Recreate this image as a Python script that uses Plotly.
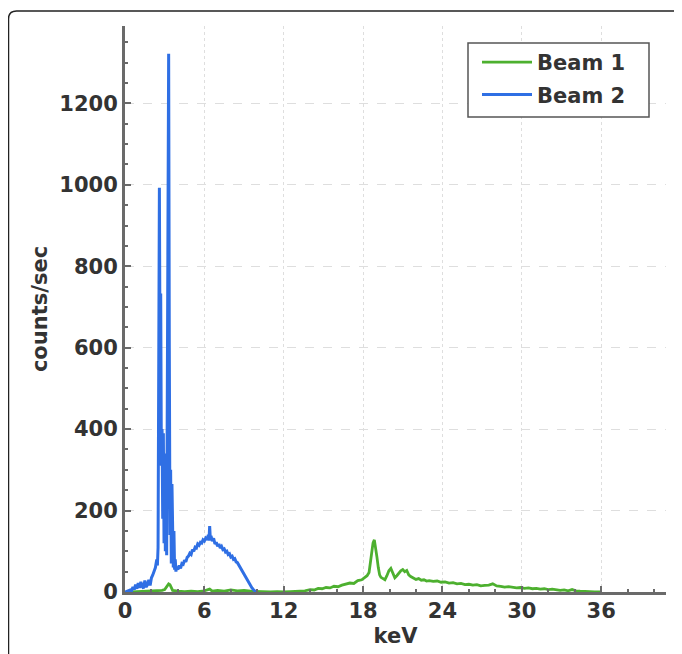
import plotly.graph_objects as go

# ---- data ----
beam2_kev = [0.0, 0.2, 0.4, 0.5, 0.6, 0.7, 0.8, 0.9, 1.0, 1.1, 1.2, 1.3, 1.4, 1.5, 1.6, 1.7, 1.8, 1.9,
             2.0, 2.1, 2.2, 2.3, 2.4, 2.45, 2.5, 2.55, 2.6, 2.65, 2.7, 2.75, 2.8, 2.85, 2.9, 2.95,
             3.0, 3.05, 3.1, 3.15, 3.2, 3.25, 3.3, 3.35, 3.4, 3.45, 3.5, 3.55, 3.6, 3.65, 3.7, 3.75,
             3.8, 3.85, 3.9, 4.0, 4.1, 4.2, 4.3, 4.4, 4.5, 4.6, 4.7, 4.8, 4.9, 5.0, 5.1, 5.2, 5.3,
             5.4, 5.5, 5.6, 5.7, 5.8, 5.9, 6.0, 6.1, 6.2, 6.3, 6.35, 6.4, 6.45, 6.5, 6.6, 6.7, 6.8,
             6.9, 7.0, 7.1, 7.2, 7.3, 7.4, 7.5, 7.6, 7.7, 7.8, 7.9, 8.0, 8.1, 8.2, 8.3, 8.4, 8.5,
             8.6, 8.7, 8.8, 8.9, 9.0, 9.1, 9.2, 9.3, 9.4, 9.5, 9.6, 9.7, 9.8, 9.9, 10.0]
beam2_counts = [0, 2, 5, 3, 12, 6, 18, 8, 22, 10, 25, 14, 9, 28, 12, 18, 30, 16,
                35, 42, 50, 60, 80, 65, 110, 420, 993, 560, 733, 310, 400, 180, 390, 120,
                340, 100, 200, 90, 450, 700, 1322, 600, 140, 300, 70, 265, 110, 60, 150, 55,
                80, 50, 62, 55, 65, 58, 70, 68, 78, 74, 85, 88, 95, 92, 104, 100, 110,
                108, 118, 115, 122, 120, 128, 125, 132, 128, 140, 126, 162, 130, 138, 125, 132, 118,
                122, 112, 118, 108, 112, 104, 106, 98, 100, 92, 94, 86, 88, 80, 82, 74, 72,
                66, 62, 56, 50, 45, 38, 32, 26, 20, 15, 10, 6, 2, 0, 0]

beam1_kev = [0.5, 1.0, 1.5, 2.0, 2.4, 2.8, 3.0, 3.1, 3.2, 3.3, 3.4, 3.5, 3.6, 4.0, 4.5, 5.0, 5.5,
             6.0, 6.4, 6.6, 7.0, 7.5, 8.0, 8.5, 9.0, 9.5, 10.0, 10.5, 11.0, 11.5, 12.0, 12.5,
             13.0, 13.3, 13.6, 14.0, 14.3, 14.6, 14.9, 15.2, 15.5, 15.8, 16.1, 16.4, 16.7, 17.0,
             17.3, 17.6, 17.9, 18.1, 18.3, 18.45, 18.55, 18.65, 18.75, 18.85, 18.95, 19.05, 19.15,
             19.25, 19.35, 19.5, 19.65, 19.8, 19.95, 20.1, 20.25, 20.4, 20.55, 20.7, 20.85, 21.0,
             21.15, 21.3, 21.45, 21.6, 21.8, 22.0, 22.2, 22.4, 22.6, 22.8, 23.0, 23.3, 23.6, 23.9,
             24.2, 24.5, 24.8, 25.1, 25.4, 25.7, 26.0, 26.3, 26.6, 26.9, 27.2, 27.5, 27.8, 28.1,
             28.4, 28.7, 29.0, 29.3, 29.6, 29.9, 30.2, 30.5, 30.8, 31.1, 31.4, 31.7, 32.0, 32.3,
             32.6, 32.9, 33.2, 33.5, 33.8, 34.1, 34.4, 34.7, 35.0, 35.5, 36.0]
beam1_counts = [0, 1, 2, 3, 2, 4, 6, 10, 16, 20, 18, 8, 4, 2, 1, 2, 1,
                3, 7, 2, 4, 2, 5, 3, 4, 2, 1, 1, 0, 1, 0, 1,
                2, 4, 3, 6, 5, 9, 8, 11, 10, 14, 13, 17, 19, 22,
                21, 28, 30, 36, 40, 48, 70, 95, 120, 128, 110, 85, 60,
                42, 36, 32, 30, 40, 52, 58, 44, 35, 40, 46, 52, 55,
                50, 53, 42, 38, 34, 31, 33, 29, 30, 27, 28, 26, 27, 24,
                25, 22, 23, 20, 21, 18, 19, 17, 18, 15, 16, 17, 20, 15,
                14, 12, 13, 11, 10, 11, 9, 10, 8, 9, 7, 8, 6, 7,
                5, 4, 5, 3, 6, 3, 2, 1, 1, 0, 0]

x_ticks = [0, 6, 12, 18, 24, 30, 36]
y_ticks = [0, 200, 400, 600, 800, 1000, 1200]
series_names = ["Beam 1", "Beam 2"]

# ---- figure ----
FONT = "DejaVu Sans"
TXT = "#333333"
AX = "#6a6a6a"
FS = 21

fig = go.Figure()
fig.add_trace(go.Scatter(x=beam1_kev, y=beam1_counts, mode="lines", name=series_names[0],
                         legendgroup="g1",
                         line=dict(color="#4db02f", width=2.8)))
fig.add_trace(go.Scatter(x=beam2_kev, y=beam2_counts, mode="lines", name=series_names[1],
                         legendgroup="g2",
                         line=dict(color="#2f6fe4", width=3)))

# page body has an 8px margin, so the figure starts at (8, 8) in the window
OFF = 8
W, H = 682 - OFF, 654 - OFF
PL, PR, PT, PB = 125, 666, 26, 592          # plot area in window pixels
L, R, T, B = PL - OFF, W - (PR - OFF), PT - OFF, H - (PB - OFF)
pw, ph = W - L - R, H - T - B


def px(x):
    return (x - OFF - L) / pw


def py(y):
    return (H - B - (y - OFF)) / ph


# outer rounded frame (decoration)
r = 8
frame = ("M {a},{b} L {a},{c} Q {a},{d} {e},{d} L {f},{d}").format(
    a=px(8.5), b=py(660), c=py(11 + r), d=py(11), e=px(8.5 + r), f=px(690))

fig.update_layout(
    width=W, height=H, autosize=False,
    margin=dict(l=L, r=R, t=T, b=B, pad=0),
    paper_bgcolor="white", plot_bgcolor="white",
    font=dict(family=FONT, size=FS, color=TXT),
    showlegend=True,
    legend=dict(x=px(477), y=py(42), xanchor="left", yanchor="top",
                bgcolor="rgba(0,0,0,0)", borderwidth=0,
                font=dict(family=FONT, size=FS, color=TXT, weight="bold"),
                tracegroupgap=2, itemwidth=50),
    shapes=[
        dict(type="path", xref="paper", yref="paper", path=frame,
             line=dict(color="#222222", width=1.5), layer="above"),
        dict(type="rect", xref="paper", yref="paper",
             x0=px(468), x1=px(649), y0=py(117), y1=py(43),
             fillcolor="white", line=dict(color="#555555", width=1.5), layer="above"),
    ],
)

fig.update_xaxes(
    range=[0, 40.9], tickvals=x_ticks, ticktext=[str(v) for v in x_ticks],
    showline=True, linecolor=AX, linewidth=3, automargin=False,
    ticks="inside", ticklen=6, tickwidth=2, tickcolor=AX,
    minor=dict(dtick=2, ticks="inside", ticklen=3, tickwidth=2, tickcolor=AX, showgrid=False),
    showgrid=True, gridcolor="#dedede", gridwidth=1, griddash="dot",
    zeroline=False, ticklabelstandoff=-2,
    tickfont=dict(family=FONT, size=FS, color=TXT, weight="bold"),
    title=dict(text="keV", font=dict(family=FONT, size=FS, color=TXT, weight="bold"), standoff=7),
)
fig.update_yaxes(
    range=[0, 1390], tickvals=y_ticks, ticktext=[str(v) for v in y_ticks],
    showline=True, linecolor=AX, linewidth=3, automargin=False,
    ticks="inside", ticklen=6, tickwidth=2, tickcolor=AX,
    minor=dict(dtick=50, ticks="inside", ticklen=3, tickwidth=2, tickcolor=AX, showgrid=False),
    showgrid=True, gridcolor="#dedede", gridwidth=1, griddash="dash",
    zeroline=False,
    tickfont=dict(family=FONT, size=FS, color=TXT, weight="bold"),
    title=dict(text="counts/sec", font=dict(family=FONT, size=FS, color=TXT, weight="bold"), standoff=6),
)

fig.write_html("out.html")
